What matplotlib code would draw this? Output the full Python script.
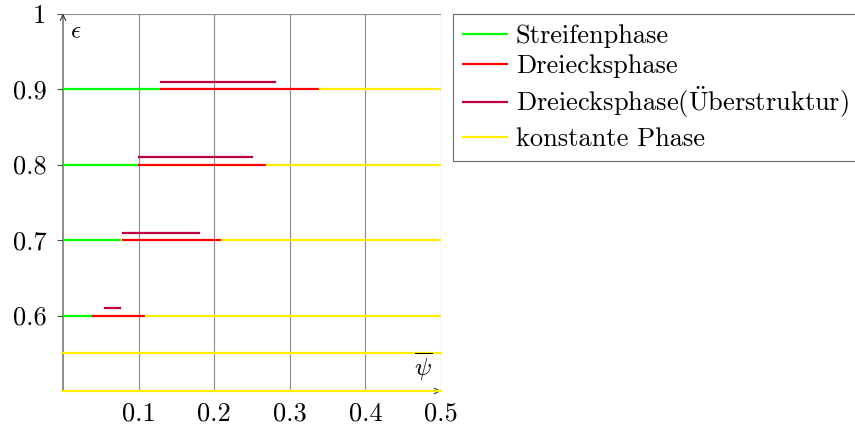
import matplotlib.pyplot as plt

plt.rcParams['font.family'] = 'cmr10'
plt.rcParams['mathtext.fontset'] = 'cm'
plt.rcParams['axes.unicode_minus'] = False

# Phasengrenzen fuer die einzelnen epsilon-Werte
eps_levels = [0.6, 0.7, 0.8, 0.9]
streifen_end = [0.04, 0.075, 0.10, 0.13]
dreieck_start = [0.04, 0.08, 0.10, 0.13]
dreieck_end = [0.11, 0.21, 0.27, 0.34]
ueber_start = [0.055, 0.08, 0.10, 0.13]
ueber_end = [0.075, 0.18, 0.25, 0.28]
ueber_shift = 0.01
konstant_eps = [0.5, 0.55]
psi_max = 0.5

xticks = [0.1, 0.2, 0.3, 0.4, 0.5]
xticklabels = ['0.1', '0.2', '0.3', '0.4', '0.5']
yticks = [0.6, 0.7, 0.8, 0.9, 1.0]
yticklabels = ['0.6', '0.7', '0.8', '0.9', '1']

green = '#00ff00'
red = '#ff0000'
purple = '#bf0040'
yellow = '#ffee00'
lw = 1.6

fig = plt.figure(figsize=(8.55, 4.32), dpi=100)
ax = fig.add_axes([63/855, 41/432, 378/855, 377.3/432])
ax.set_xlim(0, 0.5)
ax.set_ylim(0.5, 1.0)

# Gitter
for xv in xticks:
    ax.plot([xv, xv], [0.5, 1.0], color='#8c8c8c', lw=0.8, zorder=1)
ax.plot([0, 0.5], [1.0, 1.0], color='#8c8c8c', lw=0.8, zorder=1)

for i, e in enumerate(eps_levels):
    ax.plot([0, streifen_end[i]], [e, e], color=green, lw=lw, zorder=3,
            label='Streifenphase' if i == 0 else None)
    ax.plot([dreieck_start[i], dreieck_end[i]], [e, e], color=red, lw=lw, zorder=3,
            label='Dreiecksphase' if i == 0 else None)
    ax.plot([ueber_start[i], ueber_end[i]], [e + ueber_shift] * 2, color=purple, lw=lw, zorder=3,
            label=r'Dreiecksphase($\ddot{\mathrm{U}}$berstruktur)' if i == 0 else None)
    ax.plot([dreieck_end[i], psi_max], [e, e], color=yellow, lw=lw, zorder=3,
            label='konstante Phase' if i == 0 else None)

for e in konstant_eps:
    ax.plot([0, psi_max], [e, e], color=yellow, lw=lw, zorder=3, clip_on=False)

# Achsen mit Pfeilen
for s in ax.spines.values():
    s.set_visible(False)
ax.annotate('', xy=(0, 1.0), xytext=(0, 0.5),
            arrowprops=dict(arrowstyle='->', color='#333333', lw=0.8,
                            shrinkA=0, shrinkB=0), annotation_clip=False, zorder=2)
ax.annotate('', xy=(0.5, 0.5), xytext=(0, 0.5),
            arrowprops=dict(arrowstyle='->', color='#333333', lw=0.8,
                            shrinkA=0, shrinkB=0), annotation_clip=False, zorder=2)

ax.set_xticks(xticks)
ax.set_xticklabels(xticklabels, fontsize=19)
ax.set_yticks(yticks)
ax.set_yticklabels(yticklabels, fontsize=19)
ax.tick_params(axis='x', length=0, pad=8)
ax.tick_params(axis='y', length=4, width=0.8, color='#555555', pad=8)

ax.text(0.017, 0.976, r'$\epsilon$', fontsize=18, ha='center', va='center')
ax.text(0.476, 0.532, r'$\overline{\psi}$', fontsize=18, ha='center', va='center')

leg = fig.legend(loc='upper left', bbox_to_anchor=(453/855, 1 - 14/432),
                 fontsize=19, frameon=True, fancybox=False, edgecolor='#444444',
                 handlelength=1.65, handletextpad=0.35, labelspacing=0.26,
                 borderpad=0.38, borderaxespad=0)
leg.get_frame().set_linewidth(0.8)

fig.savefig('out.png', dpi=100)
